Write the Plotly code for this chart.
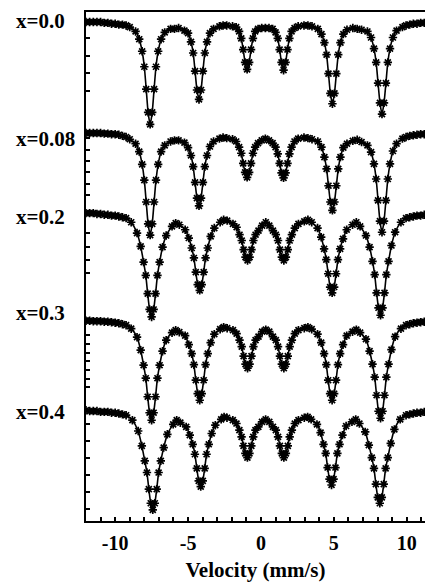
import plotly.graph_objects as go

# ---- data: Mössbauer spectra, velocity (mm/s) and relative transmission (%) ----
sample_labels = ["x=0.0", "x=0.08", "x=0.2", "x=0.3", "x=0.4"]

v_start = [-12.0, -11.75, -11.5, -11.25, -11.0, -10.75, -10.5, -10.25, -10.0, -9.75, -9.5, -9.25]
v_end = [9.95, 10.2, 10.45, 10.7, 10.95, 11.2, 11.45]

v_a = v_start + [
    -9.0, -8.6, -8.35, -8.15, -8.0, -7.87, -7.74, -7.6, -7.46, -7.33, -7.2, -7.05, -6.85, -6.6, -6.2,
    -5.93,
    -5.65, -5.25, -5.0, -4.8, -4.65, -4.52, -4.39, -4.25, -4.11, -3.98, -3.85, -3.7, -3.5, -3.25, -2.85,
    -2.6,
    -2.35, -1.95, -1.7, -1.5, -1.35, -1.22, -1.09, -0.95, -0.81, -0.68, -0.55, -0.4, -0.2, 0.05,
    0.3,
    0.55, 0.8, 1.0, 1.15, 1.28, 1.41, 1.55, 1.69, 1.82, 1.95, 2.1, 2.3, 2.55, 2.95,
    3.22,
    3.5, 3.9, 4.15, 4.35, 4.5, 4.63, 4.76, 4.9, 5.04, 5.17, 5.3, 5.45, 5.65, 5.9, 6.3,
    6.6,
    6.9, 7.3, 7.55, 7.75, 7.9, 8.03, 8.16, 8.3, 8.44, 8.57, 8.7, 8.85, 9.05, 9.3, 9.7] + v_end

v_b = v_start + [
    -8.9, -8.5, -8.25, -8.05, -7.9, -7.77, -7.64, -7.5, -7.36, -7.23, -7.1, -6.95, -6.75, -6.5, -6.1,
    -5.85,
    -5.6, -5.2, -4.95, -4.75, -4.6, -4.47, -4.34, -4.2, -4.06, -3.93, -3.8, -3.65, -3.45, -3.2, -2.8,
    -2.56,
    -2.32, -1.92, -1.67, -1.47, -1.32, -1.19, -1.06, -0.92, -0.78, -0.65, -0.52, -0.37, -0.17, 0.08,
    0.33,
    0.57, 0.82, 1.02, 1.17, 1.3, 1.43, 1.57, 1.71, 1.84, 1.97, 2.12, 2.32, 2.57, 2.97,
    3.22,
    3.48, 3.88, 4.13, 4.33, 4.48, 4.61, 4.74, 4.88, 5.02, 5.15, 5.28, 5.43, 5.63, 5.88, 6.28,
    6.54,
    6.8, 7.2, 7.45, 7.65, 7.8, 7.93, 8.06, 8.2, 8.34, 8.47, 8.6, 8.75, 8.95, 9.2, 9.6] + v_end

v_c = v_start + [
    -8.82, -8.42, -8.17, -7.97, -7.82, -7.69, -7.56, -7.42, -7.28, -7.15, -7.02, -6.87, -6.67, -6.42, -6.02,
    -5.78,
    -5.53, -5.13, -4.88, -4.68, -4.53, -4.4, -4.27, -4.13, -3.99, -3.86, -3.73, -3.58, -3.38, -3.13, -2.73,
    -2.53,
    -2.33, -1.93, -1.68, -1.48, -1.33, -1.2, -1.07, -0.93, -0.79, -0.66, -0.53, -0.38, -0.18, 0.07,
    0.32,
    0.57, 0.82, 1.02, 1.17, 1.3, 1.43, 1.57, 1.71, 1.84, 1.97, 2.12, 2.32, 2.57, 2.97,
    3.2,
    3.44, 3.84, 4.09, 4.29, 4.44, 4.57, 4.7, 4.84, 4.98, 5.11, 5.24, 5.39, 5.59, 5.84, 6.24,
    6.5,
    6.75, 7.15, 7.4, 7.6, 7.75, 7.88, 8.01, 8.15, 8.29, 8.42, 8.55, 8.7, 8.9, 9.15, 9.55] + v_end

t_x00 = [100.0, 100.0, 100.0, 100.0, 100.0, 99.9, 99.9, 99.8, 99.8, 99.7, 99.7, 99.6,
         99.4, 98.9, 98.0, 96.6, 94.8, 92.2, 89.5, 88.1, 89.5, 92.2, 94.8, 96.6, 98.0, 98.8, 99.2,
         99.2,
         99.3, 99.0, 98.7, 97.7, 96.4, 94.3, 92.1, 91.0, 92.1, 94.3, 96.4, 97.7, 98.7, 99.2, 99.5,
         99.6,
         99.6, 99.5, 99.4, 98.9, 98.1, 96.8, 95.3, 94.5, 95.3, 96.8, 98.1, 98.9, 99.2, 99.3,
         99.3,
         99.3, 99.2, 98.8, 98.1, 96.8, 95.3, 94.4, 95.3, 96.8, 98.1, 98.9, 99.3, 99.5, 99.6,
         99.6,
         99.5, 99.2, 98.6, 97.6, 96.2, 94.0, 91.7, 90.5, 91.7, 94.0, 96.2, 97.6, 98.6, 99.1, 99.3,
         99.2,
         99.1, 98.9, 98.2, 96.9, 95.3, 92.9, 90.6, 89.3, 90.6, 92.9, 95.3, 96.9, 98.2, 99.0, 99.4,
         99.6, 99.7, 99.8, 99.8, 99.9, 99.9, 100.0]

t_x008 = [100.0, 100.0, 100.0, 100.0, 100.0, 99.9, 99.9, 99.8, 99.8, 99.7, 99.5, 99.3,
          98.9, 98.1, 96.7, 94.4, 91.6, 87.7, 83.8, 81.8, 83.8, 87.7, 91.6, 94.4, 96.7, 97.8, 98.5,
          98.7,
          98.7, 98.3, 97.4, 96.0, 94.0, 91.2, 88.4, 87.0, 88.4, 91.2, 94.0, 96.0, 97.6, 98.5, 99.0,
          99.2,
          99.1, 98.9, 98.5, 97.5, 96.4, 94.6, 93.0, 92.1, 93.0, 94.6, 96.4, 97.5, 98.2, 98.7,
          99.0,
          98.7, 98.2, 97.5, 96.3, 94.6, 92.9, 92.0, 92.9, 94.6, 96.3, 97.5, 98.5, 99.0, 99.2,
          99.1,
          98.9, 98.5, 97.5, 95.7, 93.6, 90.6, 87.7, 86.2, 87.7, 90.6, 93.6, 95.7, 97.4, 98.1, 98.6,
          98.8,
          98.4, 97.8, 96.6, 94.5, 91.8, 88.0, 84.3, 82.3, 84.3, 88.0, 91.8, 94.5, 96.8, 98.1, 99.0,
          99.3, 99.5, 99.6, 99.7, 99.8, 99.8, 99.9]

t_x02 = [100.0, 100.0, 100.0, 99.9, 99.9, 99.8, 99.8, 99.7, 99.7, 99.6, 99.5, 99.4,
         98.9, 97.6, 96.0, 94.1, 92.5, 90.3, 88.4, 87.5, 88.4, 90.3, 92.5, 94.1, 95.9, 97.3, 98.4,
         98.8,
         98.6, 98.0, 97.0, 95.8, 94.6, 92.9, 91.4, 90.7, 91.4, 92.9, 94.6, 95.8, 97.2, 98.2, 98.9,
         99.2,
         99.1, 98.7, 98.3, 97.4, 96.7, 95.6, 94.7, 94.3, 94.7, 95.6, 96.7, 97.4, 97.9, 98.5,
         98.9,
         98.5, 97.9, 97.4, 96.7, 95.6, 94.7, 94.3, 94.7, 95.6, 96.7, 97.4, 98.2, 98.7, 99.0,
         99.2,
         98.9, 98.2, 97.1, 95.7, 94.4, 92.7, 91.1, 90.4, 91.1, 92.7, 94.4, 95.7, 96.9, 98.0, 98.6,
         98.9,
         98.4, 97.3, 95.9, 94.2, 92.6, 90.4, 88.6, 87.7, 88.6, 90.4, 92.6, 94.2, 96.1, 97.7, 98.9,
         99.4, 99.5, 99.6, 99.7, 99.7, 99.8, 99.8]

t_x03 = [99.9, 99.9, 99.8, 99.8, 99.8, 99.7, 99.7, 99.6, 99.5, 99.4, 99.2, 99.0,
         98.3, 96.6, 94.0, 91.0, 88.4, 84.7, 81.5, 80.0, 81.5, 84.7, 88.4, 91.0, 93.8, 96.0, 97.5,
         98.0,
         97.6, 96.9, 95.1, 93.3, 91.1, 88.0, 85.3, 84.0, 85.3, 88.0, 91.1, 93.3, 95.5, 97.2, 98.2,
         98.6,
         98.4, 98.0, 97.3, 96.0, 94.7, 92.8, 91.2, 90.4, 91.2, 92.8, 94.7, 96.0, 96.7, 97.7,
         98.1,
         97.7, 96.7, 96.0, 94.7, 92.8, 91.2, 90.4, 91.2, 92.8, 94.7, 96.0, 97.3, 98.0, 98.4,
         98.6,
         98.2, 97.2, 95.5, 93.3, 91.1, 88.0, 85.3, 84.0, 85.3, 88.0, 91.1, 93.3, 95.1, 96.9, 97.7,
         98.1,
         97.5, 96.2, 93.8, 91.2, 88.6, 85.0, 81.8, 80.4, 81.8, 85.0, 88.6, 91.2, 94.1, 96.7, 98.3,
         99.0, 99.2, 99.4, 99.5, 99.6, 99.7, 99.7]

t_x04 = [100.0, 99.9, 99.9, 99.9, 99.8, 99.8, 99.8, 99.7, 99.7, 99.6, 99.5, 99.4,
         98.8, 97.5, 95.7, 93.9, 92.5, 90.5, 88.8, 88.0, 88.8, 90.5, 92.5, 93.9, 95.5, 97.1, 98.3,
         98.8,
         98.5, 98.0, 97.0, 95.9, 94.7, 93.0, 91.5, 90.8, 91.5, 93.0, 94.7, 95.9, 97.2, 98.2, 98.9,
         99.2,
         99.1, 98.8, 98.4, 97.6, 96.8, 95.7, 94.8, 94.3, 94.8, 95.7, 96.8, 97.6, 98.0, 98.6,
         98.9,
         98.6, 98.0, 97.6, 96.8, 95.7, 94.8, 94.3, 94.8, 95.7, 96.8, 97.6, 98.4, 98.8, 99.1,
         99.2,
         98.9, 98.3, 97.3, 95.9, 94.8, 93.1, 91.7, 91.0, 91.7, 93.1, 94.8, 95.9, 97.0, 98.1, 98.6,
         98.9,
         98.4, 97.4, 95.8, 94.3, 93.0, 91.1, 89.5, 88.8, 89.5, 91.1, 93.0, 94.3, 96.0, 97.7, 98.9,
         99.4, 99.5, 99.6, 99.7, 99.7, 99.8, 99.8]

velocity_tick_labels = ["-10", "-5", "0", "5", "10"]
velocity_ticks = [-10, -5, 0, 5, 10]

# ---- stacking (layout): vertical offset of each spectrum and vertical scale ----
spectra = [(v_a, t_x00), (v_a, t_x008), (v_b, t_x02), (v_b, t_x03), (v_c, t_x04)]
stack_base = [22, 133, 213, 320, 410]      # baseline position of each spectrum
stack_gain = [8.6, 5.6, 8.3, 5.0, 8.3]     # vertical scale per % transmission
label_pos = [20.5, 138.5, 217, 312.5, 411.5]
left_ticks = [37.7, 55.5, 73.3, 91.0,
              138.3, 149.6, 160.9, 172.2, 183.5, 194.8,
              233.3, 246.6, 259.9, 273.2,
              335.0, 343.7, 352.4, 361.1, 369.8, 378.5, 387.2,
              423.3, 440.3, 457.3, 474.3, 491.3, 508.3]

FONT = "Liberation Serif"

fig = go.Figure()
for (vel, trans), base, gain in zip(spectra, stack_base, stack_gain):
    yy = [base + (100.0 - t) * gain for t in trans]
    fig.add_trace(go.Scatter(
        x=vel, y=yy, mode="lines+markers",
        line=dict(color="black", width=1.6, shape="spline", smoothing=0.6),
        marker=dict(symbol="asterisk-open", size=7, color="black",
                    line=dict(color="black", width=1.7)),
        showlegend=False, hoverinfo="skip"))

for lab, yp in zip(sample_labels, label_pos):
    fig.add_annotation(text="<b>%s</b>" % lab, xref="paper", yref="y",
                       x=(14 - 86) / 339.0, y=yp, xanchor="left", yanchor="middle",
                       showarrow=False, font=dict(family=FONT, size=21, color="black"))

fig.update_layout(
    width=425, height=582,
    margin=dict(l=86, r=0, t=12, b=61),
    paper_bgcolor="white", plot_bgcolor="white",
    font=dict(family=FONT, color="black"),
)
fig.update_xaxes(
    range=[-12, 11.25], showgrid=False, zeroline=False,
    showline=True, linecolor="black", linewidth=2, mirror=True,
    tickmode="array", tickvals=velocity_ticks, ticktext=["<b>%s</b>" % s for s in velocity_tick_labels],
    ticks="inside", ticklen=4, tickwidth=1.5, tickcolor="black",
    tickfont=dict(family=FONT, size=20, color="black"),
    ticklabelstandoff=3,
    minor=dict(tickmode="linear", tick0=0, dtick=1, ticks="inside", ticklen=4,
               tickwidth=1.5, tickcolor="black", showgrid=False),
    title=dict(text="<b>Velocity (mm/s)</b>", standoff=10,
               font=dict(family=FONT, size=21, color="black")),
)
fig.update_yaxes(
    range=[520.7, 12], showgrid=False, zeroline=False,
    showline=True, linecolor="black", linewidth=2, mirror=False,
    tickmode="array", tickvals=left_ticks, showticklabels=False,
    ticks="inside", ticklen=4, tickwidth=1.5, tickcolor="black",
)

fig.write_html("out.html", config={"displayModeBar": False},
               post_script="document.body.style.margin='0';document.body.style.overflow='hidden';")
